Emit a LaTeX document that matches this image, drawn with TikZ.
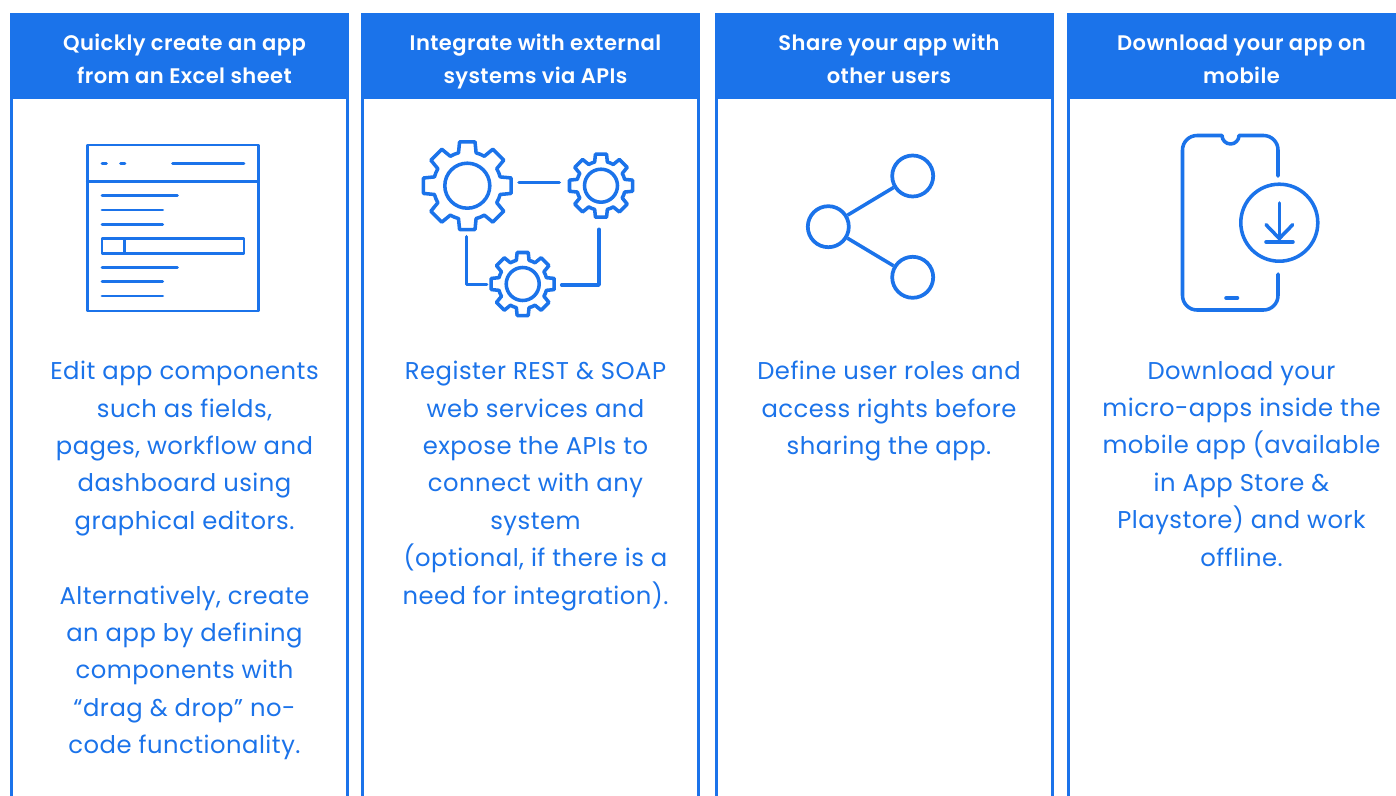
\documentclass[tikz,border=0pt]{standalone}
\usepackage{fontspec}
\setmainfont{Poppins}[LetterSpace=2]
\newfontfamily\semi{Poppins SemiBold}[LetterSpace=2]
\definecolor{brand}{HTML}{1B73EA}
\tikzset{
 x=0.75pt,y=-0.75pt,
 icon/.style={draw=brand,line width=2.65pt,line cap=round,line join=round},
 thin icon/.style={draw=brand,line width=2.2pt,line cap=round,line join=round},
 frame/.style={draw=brand,line width=2.1pt},
 headbox/.style={fill=brand,draw=none,minimum width=339*0.75pt,minimum height=86*0.75pt,inner sep=0pt},
 headtext/.style={text=white,align=center,inner sep=0pt,font=\semi\fontsize{15.8}{24.75}\selectfont},
 bodytext/.style={anchor=north,text=brand,align=center,inner sep=0pt,font=\fontsize{18.2}{28.05}\selectfont},
 sharedot/.style={circle,draw=brand,line width=2.8pt,minimum size=41*0.75pt,inner sep=0pt},
}
% #1 outer radius, #2 root radius, #3 tip half angle, #4 root half angle
\newcommand{\gearpath}[4]{
 \draw[icon] (0-#4:#2)
 \foreach \a in {0,45,...,315}{
   -- (\a-#4:#2) -- (\a-#3:#1) -- (\a+#3:#1) -- (\a+#4:#2) arc[start angle=\a+#4,end angle=\a+45-#4,radius=#2]
 } -- cycle;
}
\begin{document}
\begin{tikzpicture}
\useasboundingbox (0,0) rectangle (1396,796);
\fill[white] (0,0) rectangle (1396,796);
% column frames
\draw[frame] (11.2,796) -- (11.2,97) (347.6,97) -- (347.6,796);
\draw[frame] (362.4,796) -- (362.4,97) (698.6,97) -- (698.6,796);
\draw[frame] (716.4,796) -- (716.4,97) (1052.6,97) -- (1052.6,796);
\draw[frame] (1068.4,796) -- (1068.4,97);
% headers
\node[headbox] (h1) at (179.5,55.5) {};
\node[headbox] (h2) at (530.5,55.5) {};
\node[headbox] (h3) at (884.5,55.5) {};
\node[headbox,minimum width=330*0.75pt] (h4) at (1232,55.5) {};
\node[headtext] (t1) at (184.5,59) {Quickly create an app\\from an Excel sheet};
\node[headtext] (t2) at (535.5,62) {Integrate with external\\systems via APIs};
\node[headtext] (t3) at (889,59) {Share your app with\\other users};
\node[headtext] (t4) at (1241.5,59) {Download your app on\\mobile};
% body text
\node[bodytext] (b1) at (184.5,360.9) {Edit app components\\such as fields,\\pages, workflow and\\dashboard using\\graphical editors.\\\mbox{}\\Alternatively, create\\an app by defining\\components with\\“drag \& drop” no-\\code functionality.};
\node[bodytext] (b2) at (535.5,360.9) {Register REST \& SOAP\\web services and\\expose the APIs to\\connect with any\\system\\(optional, if there is a\\need for integration).};
\node[bodytext] (b3) at (889,360.9) {Define user roles and\\access rights before\\sharing the app.};
\node[bodytext] (b4) at (1241.5,360.9) {Download your\\micro-apps inside the\\mobile app (available\\in App Store \&\\Playstore) and work\\offline.};
% form icon
\draw[thin icon] (87.3,145) rectangle (258.3,311);
\draw[thin icon] (87.3,181.7) -- (258.3,181.7);
\draw[thin icon] (102,163.3) -- (106.5,163.3) (120.5,163.3) -- (125,163.3) (172.5,163.3) -- (244,163.3);
\draw[thin icon] (102,195.7) -- (177.5,195.7) (102,210) -- (162.7,210) (102,224.3) -- (162.7,224.3);
\draw[thin icon] (102,238.8) rectangle (244,253.3);
\draw[thin icon] (124.3,238.8) -- (124.3,253.3);
\draw[thin icon] (102,267.3) -- (177.5,267.3) (102,281.7) -- (162.7,281.7) (102,296) -- (162.7,296);
% gears
\begin{scope}[shift={(467.3,185.7)}]
 \gearpath{44.5}{34}{10}{15}
 \draw[icon] (0,0) circle (22.5);
\end{scope}
\begin{scope}[shift={(601,185.7)}]
 \gearpath{32}{24.5}{10}{15}
 \draw[icon] (0,0) circle (16.5);
\end{scope}
\begin{scope}[shift={(522.7,284)}]
 \gearpath{32}{24.5}{10}{15}
 \draw[icon] (0,0) circle (16.5);
\end{scope}
\draw[icon] (519,182.7) -- (559.3,182.7);
\draw[icon] (466.7,236.7) -- (466.7,284.3) -- (486.7,284.3);
\draw[icon] (561.7,285) -- (599,285) -- (599,229.3);
% share icon
\node[sharedot] (s1) at (912.7,176) {};
\node[sharedot] (s2) at (828.3,226.7) {};
\node[sharedot] (s3) at (912.7,277.3) {};
\draw[icon,line cap=butt] (s2) -- (s1);
\draw[icon,line cap=butt] (s2) -- (s3);
% phone icon
\draw[icon] (1278,176) -- (1278,150) arc[start angle=0,end angle=-90,radius=14.5] -- (1239,135.5)
  arc[start angle=0,end angle=180,radius=8.5] -- (1197,135.5)
  arc[start angle=-90,end angle=-180,radius=14.5] -- (1182.5,295.5)
  arc[start angle=180,end angle=90,radius=14.5] -- (1263.5,310)
  arc[start angle=90,end angle=0,radius=14.5] -- (1278,274);
\draw[icon] (1226,298) -- (1237.5,298);
\draw[icon] (1279.3,222.7) circle (38.5);
\draw[icon] (1279.3,203) -- (1279.3,239);
\draw[icon] (1266,224.7) -- (1279.3,238.5) -- (1292.7,224.7);
\draw[icon] (1266,242) -- (1293,242);
\end{tikzpicture}
\end{document}
